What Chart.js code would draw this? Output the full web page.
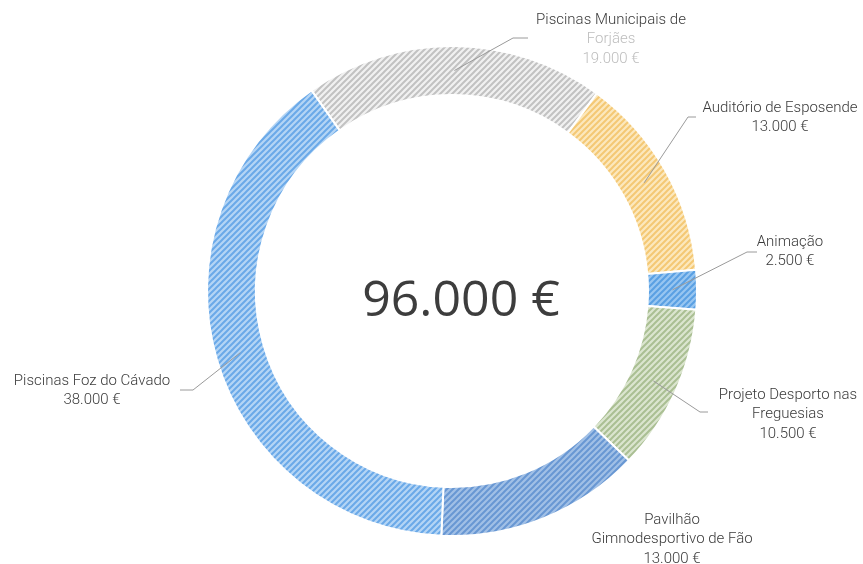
<!DOCTYPE html>
<html>
<head>
<meta charset="utf-8">
<script src="https://cdn.jsdelivr.net/npm/chart.js@4"></script>
<style>
  html, body { margin: 0; padding: 0; background: #fff; }
  #wrap { width: 863px; height: 564px; position: relative; }
</style>
</head>
<body>
<div id="wrap"><canvas id="myChart"></canvas></div>
<script>
// data
const labels = [
  ["Piscinas Municipais de", "Forjães"],
  ["Auditório de Esposende"],
  ["Animação"],
  ["Projeto Desporto nas", "Freguesias"],
  ["Pavilhão", "Gimnodesportivo de Fão"],
  ["Piscinas Foz do Cávado"]
];
const values = [19000, 13000, 2500, 10500, 13000, 38000];

// hatch colours: [base, stripe]
const fills = [
  ["#f1f1f1", "#c2c2c2"],
  ["#fce8bd", "#f4c874"],
  ["#98c6f1", "#5aa0e3"],
  ["#dbe5cf", "#aabf93"],
  ["#a1c0e6", "#6897d3"],
  ["#b4d5f5", "#6aa9e8"]
];

// label placement: text centre, leader elbow, leader end
const labelPos = [
  { x: 611, y: 20, elbow: [513, 38], end: [528, 38], fade: true },
  { x: 780, y: 108, elbow: [688, 117], end: [696, 117] },
  { x: 790, y: 242, elbow: [747, 252], end: [757, 252] },
  { x: 788, y: 395, elbow: [700, 412], end: [708, 412] },
  { x: 672, y: 520, elbow: null, end: null },
  { x: 92, y: 381, elbow: [193, 390], end: [180, 390] }
];

function euro(v) {
  return String(v).replace(/\B(?=(\d{3})+(?!\d))/g, ".") + " €";
}

function hatch(base, stripe) {
  const c = document.createElement("canvas");
  c.width = 6;
  c.height = 6;
  const g = c.getContext("2d");
  g.fillStyle = base;
  g.fillRect(0, 0, 6, 6);
  g.strokeStyle = stripe;
  g.lineWidth = 2;
  g.beginPath();
  g.moveTo(0, 6); g.lineTo(6, 0);
  g.moveTo(-3, 3); g.lineTo(3, -3);
  g.moveTo(3, 9); g.lineTo(9, 3);
  g.stroke();
  return g.createPattern(c, "repeat");
}

const total = values.reduce((a, b) => a + b, 0);

const outsideLabels = {
  id: "outsideLabels",
  afterDraw(chart) {
    const ctx = chart.ctx;
    const arcs = chart.getDatasetMeta(0).data;
    ctx.save();
    arcs.forEach((arc, i) => {
      const p = labelPos[i];
      if (p.elbow) {
        const start = arc.tooltipPosition();
        ctx.strokeStyle = "#9a9a9a";
        ctx.lineWidth = 1;
        ctx.beginPath();
        ctx.moveTo(start.x, start.y);
        ctx.lineTo(p.elbow[0], p.elbow[1]);
        ctx.lineTo(p.end[0], p.end[1]);
        ctx.stroke();
      }
      const lines = labels[i].concat([euro(values[i])]);
      ctx.font = "300 15px Roboto, 'Liberation Sans', sans-serif";
      ctx.textAlign = "center";
      ctx.textBaseline = "middle";
      lines.forEach((t, k) => {
        ctx.fillStyle = (p.fade && k > 0) ? "#bdbdbd" : "#3a3a3a";
        ctx.fillText(t, p.x, p.y + k * 19.5);
      });
    });

    // total in the middle
    const c = arcs[0];
    ctx.font = "50px 'Open Sans', sans-serif";
    ctx.fillStyle = "#3d3d3d";
    ctx.textAlign = "center";
    ctx.textBaseline = "middle";
    ctx.fillText(euro(total), c.x + 9, c.y + 11);
    ctx.restore();
  }
};

window.onload = function () {
  const ctx = document.getElementById("myChart").getContext("2d");

  const myChart = new Chart(ctx, {
    type: "doughnut",
    data: {
      labels: labels.map((l) => l.join(" ")),
      datasets: [
        {
          data: values,
          backgroundColor: fills.map((f) => hatch(f[0], f[1])),
          borderColor: "#ffffff",
          borderWidth: 2,
          hoverOffset: 0,
        },
      ],
    },
    options: {
      responsive: true,
      maintainAspectRatio: false,
      animation: false,
      cutout: "80%",
      rotation: -35,
      layout: { padding: { top: 45, bottom: 27, left: 41, right: 0 } },
      plugins: {
        legend: { display: false },
        tooltip: { enabled: false },
      },
    },
    plugins: [outsideLabels],
  });
};
</script>
</body>
</html>
